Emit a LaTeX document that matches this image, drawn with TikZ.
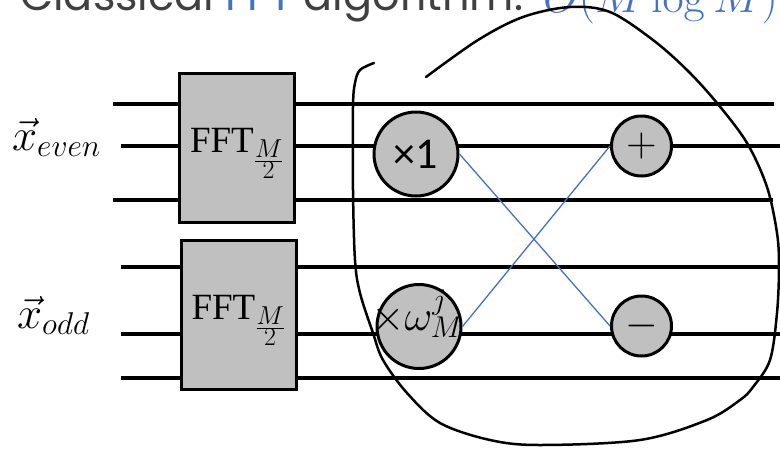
\documentclass[tikz,border=0pt]{standalone}
\usepackage{fix-cm}
\usepackage[no-math]{fontspec}
\setmainfont{Liberation Serif}
\newfontfamily\carl{Carlito}
\newfontfamily\ttlfont{Poppins}
\definecolor{pblue}{HTML}{4472C4}
\definecolor{pgray}{HTML}{C0C0C0}
\definecolor{tgray}{HTML}{404040}
\tikzset{
  wire/.style={line width=4pt},
  fftbox/.style={draw, line width=3pt, fill=pgray, minimum width=115pt, minimum height=149pt, inner sep=0pt},
  opnode/.style={circle, draw, line width=3pt, fill=pgray, inner sep=0pt},
  crossline/.style={pblue, line width=1.3pt},
  loopline/.style={line width=2.5pt, line cap=round},
  fftlabel/.style={inner sep=0pt, font=\fontsize{37}{40}\selectfont},
  mathlabel/.style={inner sep=0pt, anchor=base west, font=\fontsize{45}{48}\selectfont},
}
\begin{document}
\begin{tikzpicture}[x=1pt,y=-1pt]
\useasboundingbox (0,0) rectangle (780,448);
% title (cut off at top)
\node[anchor=base west, inner sep=0pt, text=tgray, font=\ttlfont\fontsize{43}{46}\selectfont] (title) at (20,10) {Classical \textcolor{pblue}{FFT} algorithm:};
\node[anchor=base west, inner sep=0pt, text=pblue, font=\fontsize{46}{48}\selectfont] (cost) at (543,12) {$O(M\log M)$};
% wire end points
\coordinate (a1) at (113,104); \coordinate (b1) at (774,104);
\coordinate (a2) at (121,146); \coordinate (b2) at (780,146);
\coordinate (a3) at (113,200); \coordinate (b3) at (773,200);
\coordinate (a4) at (121,267); \coordinate (b4) at (780,267);
\coordinate (a5) at (121,334); \coordinate (b5) at (780,334);
\coordinate (a6) at (121,378); \coordinate (b6) at (780,378);
\foreach \i in {1,...,6} { \draw[wire] (a\i) -- (b\i); }
% FFT boxes
\node[fftbox] (f1) at (237,147.5) {};
\node[fftbox] (f2) at (238.5,314.5) {};
\node[fftlabel] (f1t) at ([yshift=-6pt]f1.center) {FFT$_{\frac{\scriptstyle M}{\scriptstyle 2}}$};
\node[fftlabel] (f2t) at ([yshift=-6pt]f2.center) {FFT$_{\frac{\scriptstyle M}{\scriptstyle 2}}$};
% input labels
\node[mathlabel] (xe) at (12,150) {$\vec{x}_{even}$};
\node[mathlabel] (xo) at (17,328) {$\vec{x}_{odd}$};
% operator circles
\node[opnode, minimum size=84pt, font=\carl\fontsize{44}{44}\selectfont] (m1) at (416,154) {×1};
\node[opnode, minimum size=84pt] (mw) at (419,326.5) {};
\node[inner sep=0pt, font=\fontsize{43}{46}\selectfont] (mwt) at (417,314) {$\times\omega_M^j$};
\node[opnode, minimum size=60pt, font=\fontsize{42}{42}\selectfont] (pl) at (641.5,146) {$+$};
\node[opnode, minimum size=60pt, font=\fontsize{42}{42}\selectfont] (mi) at (641.5,326) {$-$};
% butterfly
\draw[crossline] (m1.east) -- (mi.west);
\draw[crossline] (mw.east) -- (pl.west);
% freehand loop
\draw[loopline] plot[smooth, tension=0.55] coordinates {
  (426,77) (478,40) (523,17) (570,7) (610,12) (653,40) (687,70) (717,103)
  (747,143) (767,187) (777,233) (779,267) (777,313) (770,360) (753,387)
  (740,400) (707,420) (640,440) (540,445) (490,440) (440,423) (407,393)
  (383,360) (373,333) (360,293) (355,260) (353,190) (353,107) (355,83)
  (360,70) (374,63)};
\end{tikzpicture}
\end{document}
